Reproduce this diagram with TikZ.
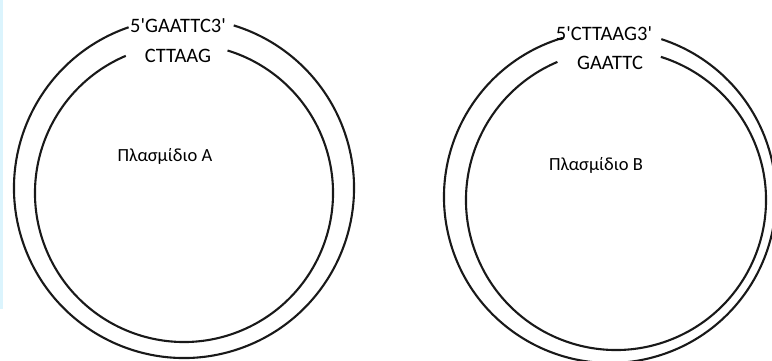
\documentclass[tikz,border=0pt]{standalone}
\usepackage{fontspec}
\setmainfont{Carlito}
\usepackage{tikz}
\usetikzlibrary{positioning, calc}

\begin{document}
\begin{tikzpicture}[x=1pt, y=1pt,
    strand/.style={line width=2.1pt, black!90},
    seq/.style={font=\fontsize{20.5}{20.5}\selectfont, inner sep=0pt, text=black},
    plabel/.style={font=\fontsize{18.5}{18.5}\selectfont, inner sep=0pt, text=black}]
    % Bounding box
    \useasboundingbox (0,0) rectangle (772,361);
    \fill[cyan!14] (0,52) rectangle (3,361);

    \begin{scope}
        % Plasmid A centres
        \coordinate (cAo) at (184,173);
        \coordinate (cAi) at (184,168);
        % Outer and inner strands
        \draw[strand] ([shift={(109:170)}]cAo) arc[start angle=109, end angle=433, radius=170];
        \draw[strand] ([shift={(113:149)}]cAi) arc[start angle=113, end angle=433, radius=149];
        % Labels
        \node[seq] (seqAo) at (178,335) {5\textquotesingle GAATTC3\textquotesingle};
        \node[seq] (seqAi) at (178,305) {CTTAAG};
        \node[plabel] (nameA) at (165,205) {Πλασμίδιο Α};
    \end{scope}

    \begin{scope}
        % Plasmid B centres
        \coordinate (cBo) at (610,164);
        \coordinate (cBi) at (616,161);
        % Outer and inner strands
        \draw[strand] ([shift={(106.5:166)}]cBo) arc[start angle=106.5, end angle=432, radius=166];
        \draw[strand] ([shift={(113:150)}]cBi) arc[start angle=113, end angle=432.6, radius=150];
        % Labels
        \node[seq] (seqBo) at (604,327) {5\textquotesingle CTTAAG3\textquotesingle};
        \node[seq] (seqBi) at (610,298) {GAATTC};
        \node[plabel] (nameB) at (596,196) {Πλασμίδιο Β};
    \end{scope}
\end{tikzpicture}
\end{document}
